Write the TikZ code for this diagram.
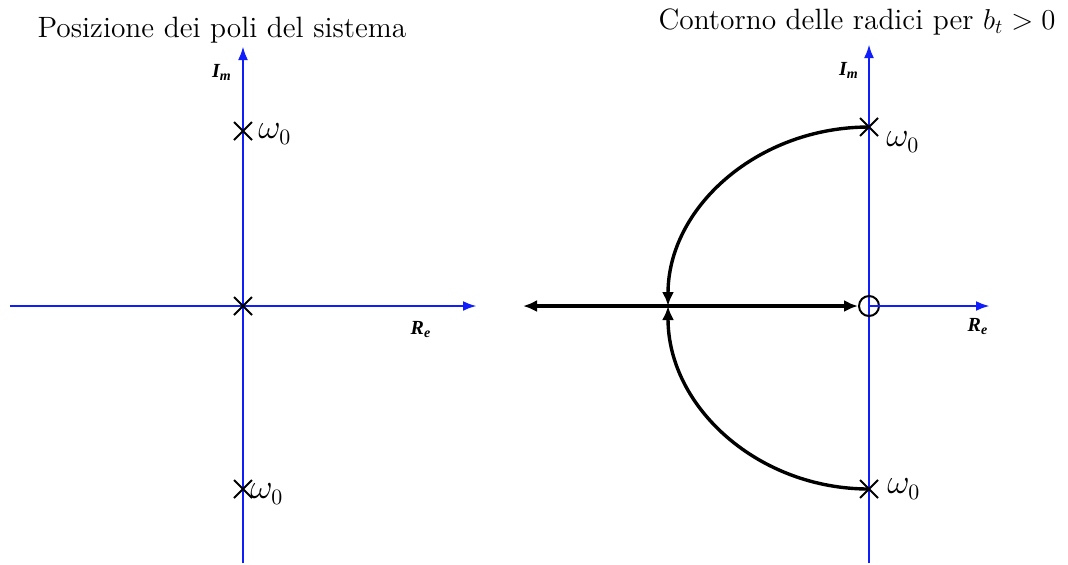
\documentclass[tikz,border=0pt]{standalone}
\usepackage{amsmath,amssymb}
\usepackage{fontspec}
\usepackage{tikz}
\usepackage{xcolor}
\usetikzlibrary{positioning,arrows.meta,shapes.misc,calc}
\newfontfamily\axfont{Liberation Serif}
\definecolor{axblue}{RGB}{15,30,250}
\begin{document}
\begin{tikzpicture}[
          x=0.5pt, y=-0.5pt,
          axis/.style={draw=axblue, line width=1.4pt, -{Latex[length=7pt,width=5pt]}},
          locus/.style={draw=black, line width=1.7pt},
          tip/.style={-{Latex[length=7pt,width=6pt]}},
          pole/.style={cross out, draw, line width=1pt, minimum size=8pt, inner sep=0pt},
          zero/.style={circle, draw, line width=1pt, minimum size=10pt, inner sep=0pt},
          lbl/.style={font=\fontsize{14.7}{17}\selectfont},
          wlbl/.style={font=\fontsize{16}{19}\selectfont, anchor=west, inner sep=0pt},
          axlbl/.style={font=\axfont\fontsize{10}{12}\selectfont\bfseries\itshape}
      ]
        \useasboundingbox (0,0) rectangle (1068,564);
        % left plane: poles
        \coordinate (lO) at (243,306);
        \coordinate (lW) at (10,306);
        \coordinate (lE) at (477,306);
        \coordinate (lS) at (243,563);
        \coordinate (lN) at (243,46);
        \draw[axis] (lW) -- (lE);
        \draw[axis] (lS) -- (lN);
        \node[pole] (p1) at (243,131) {};
        \node[pole] (p2) at (lO) {};
        \node[pole] (p3) at (243,489) {};
        \node[wlbl] (w1) at (258,134) {$\omega_0$};
        \node[wlbl] (w2) at (250,494) {$\omega_0$};
        \node[axlbl] (im1) at (222,72) {I\textsubscript{m}};
        \node[axlbl] (re1) at (421,330) {R\textsubscript{e}};
        \node[lbl] (t1) at (222,30) {Posizione dei poli del sistema};
        % right plane: root contour
        \coordinate (rO) at (869,306);
        \coordinate (rE) at (990,306);
        \coordinate (rS) at (869,563);
        \coordinate (rN) at (869,44);
        \coordinate (rW) at (523,306);
        \draw[axis] (rS) -- (rN);
        \node[zero] (z) at (rO) {};
        \draw[axis] (z.center) -- (rE);
        \node[pole] (p4) at (869,127) {};
        \node[pole] (p5) at (869,489) {};
        \draw[locus, {Latex[length=7pt,width=6pt]}-{Latex[length=7pt,width=6pt]}] (rW) -- (z.west);
        \draw[locus, tip] (p4.center) arc[start angle=-90, end angle=-180, x radius=201, y radius=179];
        \draw[locus, tip] (p5.center) arc[start angle=90, end angle=180, x radius=201, y radius=183];
        \node[wlbl] (w3) at (886,142) {$\omega_0$};
        \node[wlbl] (w4) at (887,489) {$\omega_0$};
        \node[axlbl] (im2) at (849,70) {I\textsubscript{m}};
        \node[axlbl] (re2) at (978,327) {R\textsubscript{e}};
        \node[lbl] (t2) at (857,22) {Contorno delle radici per $b_t>0$};
      \end{tikzpicture}
\end{document}
